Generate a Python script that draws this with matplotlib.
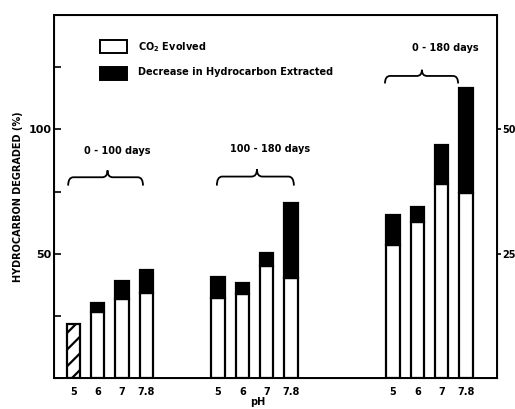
import numpy as np
import matplotlib
matplotlib.use("Agg")
import matplotlib.pyplot as plt
from matplotlib.path import Path
from matplotlib.patches import PathPatch

# pH groups
ph_labels = ["5", "6", "7", "7.8"]
group_titles = ["0 - 100 days", "100 - 180 days", "0 - 180 days"]

# CO2 evolved (white part) and total degraded (top of black part), %
co2_0_100 = [21.8, 26.6, 31.8, 34.3]
total_0_100 = [21.8, 30.2, 39.1, 43.5]
co2_100_180 = [32.3, 33.9, 45.2, 40.3]
total_100_180 = [40.7, 38.3, 50.4, 70.2]
co2_0_180 = [53.6, 62.9, 78.0, 74.6]
total_0_180 = [65.7, 68.9, 93.7, 116.5]

plt.rcParams['font.family'] = ['DejaVu Sans']
plt.rcParams['font.weight'] = 'bold'
plt.rcParams['hatch.linewidth'] = 1.6

fig = plt.figure(figsize=(5.15, 4.09), dpi=100)
ax = fig.add_axes([0.105, 0.076, 0.860, 0.887])

starts = [0.8, 6.75, 13.95]
width = 0.55
co2 = [co2_0_100, co2_100_180, co2_0_180]
total = [total_0_100, total_100_180, total_0_180]

for g in range(3):
    xs = starts[g] + np.arange(4)
    for i, x in enumerate(xs):
        if g == 0 and i == 0:
            # hatched bar, no extraction data
            ax.bar(x, co2[g][i], width, color='white', edgecolor='black',
                   linewidth=1.6, hatch='//')
            continue
        ax.bar(x, co2[g][i], width, color='white', edgecolor='black', linewidth=1.6)
        ax.bar(x, total[g][i] - co2[g][i], width, bottom=co2[g][i],
               color='black', edgecolor='black', linewidth=1.6)
    for k, lab in enumerate(ph_labels):
        ax.text(xs[k], -3.5, lab, ha='center', va='top', fontsize=7, fontweight='bold')


def brace(ax, x0, x1, xm, y0, y1):
    # horizontal curly brace, tip pointing up
    h = y1 - y0
    ym = y0 + h * 0.55
    r = (x1 - x0) * 0.07
    verts = [(x0, y0), (x0, ym), (x0 + r, ym), (xm - r, ym), (xm, ym), (xm, y1),
             (xm, ym), (xm + r, ym), (x1 - r, ym), (x1, ym), (x1, y0)]
    codes = [Path.MOVETO, Path.CURVE3, Path.CURVE3, Path.LINETO, Path.CURVE3, Path.CURVE3,
             Path.CURVE3, Path.CURVE3, Path.LINETO, Path.CURVE3, Path.CURVE3]
    ax.add_patch(PathPatch(Path(verts, codes), fill=False, lw=1.3, color='black'))


brace(ax, 0.58, 3.66, 2.2, 77.4, 83.5)
brace(ax, 6.70, 9.87, 8.35, 77.4, 84.0)
brace(ax, 13.62, 16.63, 15.14, 118.5, 124.0)
ax.text(2.6, 91.5, group_titles[0], ha='center', va='center', fontsize=7, fontweight='bold')
ax.text(8.9, 92.3, group_titles[1], ha='center', va='center', fontsize=7, fontweight='bold')
ax.text(16.09, 132.6, group_titles[2], ha='center', va='center', fontsize=7, fontweight='bold')

# legend drawn as boxes in axes
ax.bar(2.45, 5.3, 1.1, bottom=130.6, color='white', edgecolor='black', linewidth=1.4)
ax.bar(2.45, 5.3, 1.1, bottom=119.7, color='black', edgecolor='black', linewidth=1.4)
ax.text(3.46, 133.2, "CO$_2$ Evolved", ha='left', va='center', fontsize=7, fontweight='bold')
ax.text(3.46, 123.0, "Decrease in Hydrocarbon Extracted", ha='left', va='center',
        fontsize=7, fontweight='bold')

ax.set_xlim(0, 18.23)
ax.set_ylim(0, 146)
ax.set_xticks([])
ax.set_yticks([25, 50, 75, 100, 125])
ax.set_yticklabels(["", "50", "", "100", ""], fontsize=8, fontweight='bold')
ax.tick_params(axis='y', direction='in', length=5, width=1.2, pad=2)
for s in ax.spines.values():
    s.set_linewidth(1.4)

ax2 = ax.twinx()
ax2.set_ylim(0, 73)
ax2.set_yticks([25, 50])
ax2.set_yticklabels(["25", "50"], fontsize=7, fontweight='bold')
ax2.tick_params(axis='y', direction='out', length=3, width=1.2, pad=0.5)

fig.text(0.035, 0.52, "HYDROCARBON DEGRADED (%)", rotation=90, ha='center', va='center',
         fontsize=7, fontweight='bold')
fig.text(0.5, 0.005, "pH", ha='center', va='bottom', fontsize=7, fontweight='bold')

fig.savefig("out.png", dpi=100)
